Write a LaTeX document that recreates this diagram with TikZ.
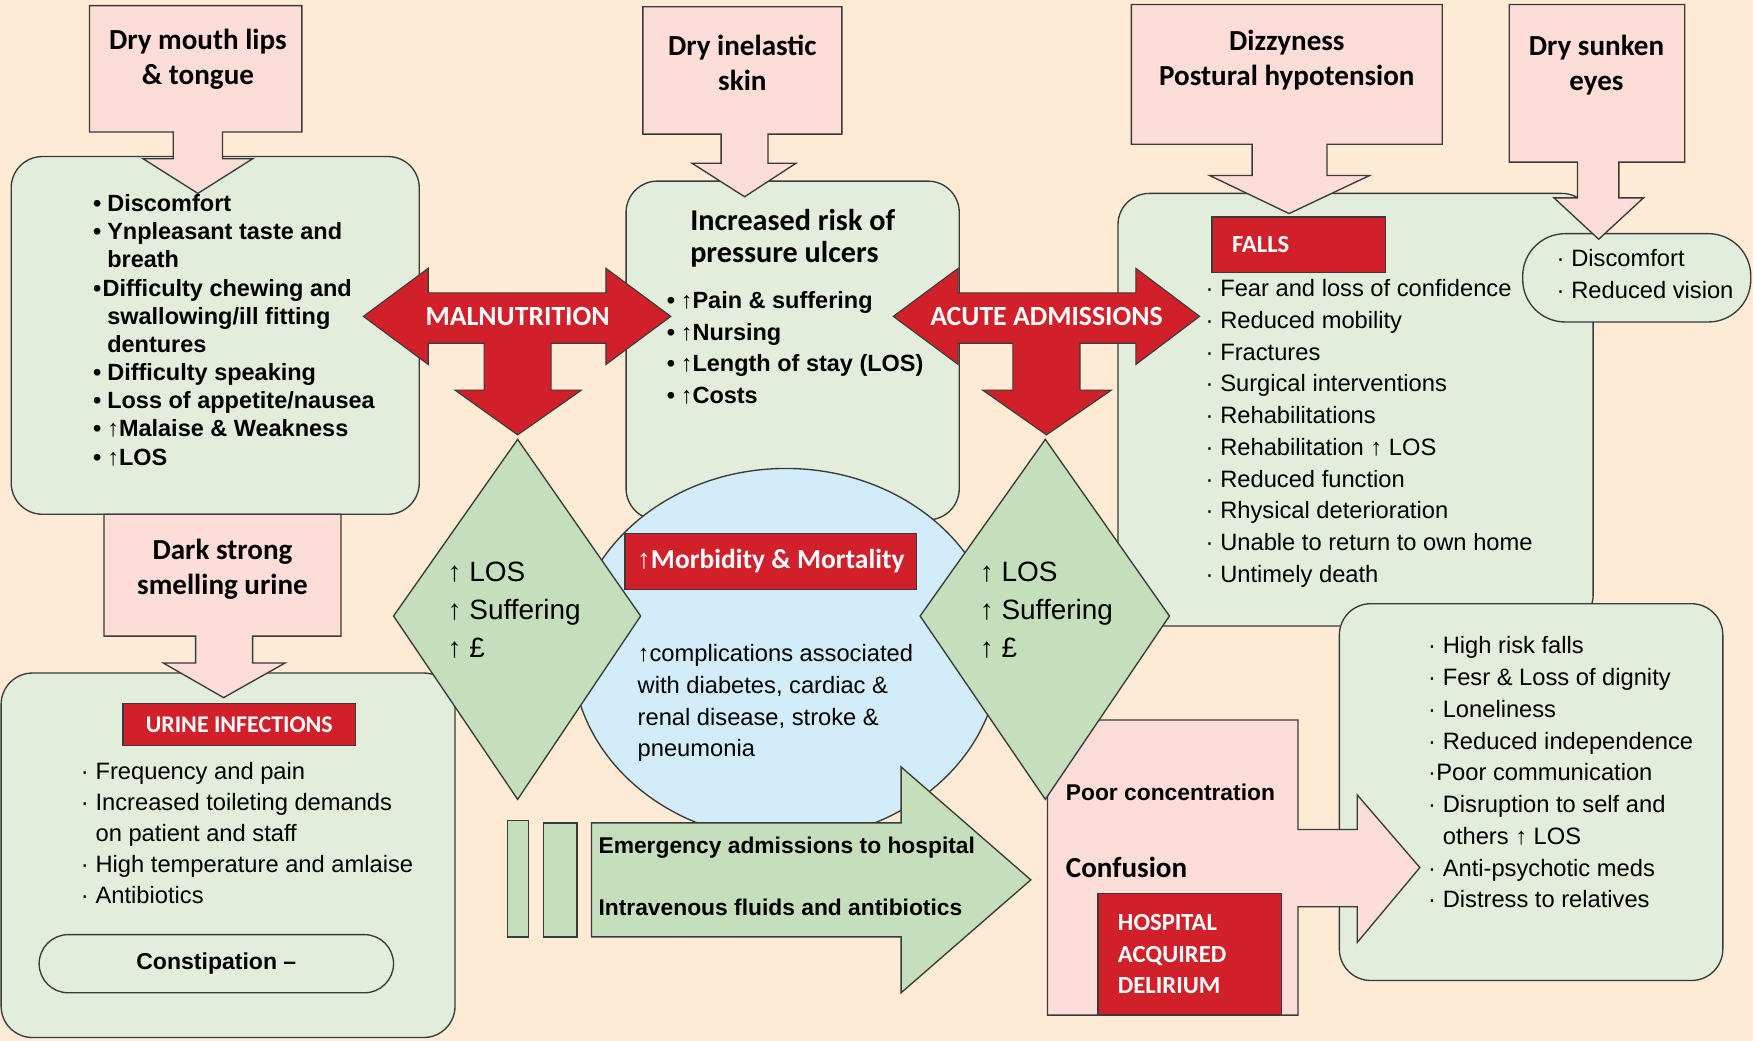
\documentclass[tikz,border=0pt]{standalone}
\usepackage{fontspec}
\setmainfont{Liberation Sans}
\newfontfamily\condfont{Carlito}
\newfontfamily\arrowfont{Liberation Sans}
\usetikzlibrary{positioning, calc}
\definecolor{mPeach}{HTML}{FEEBD5}
\definecolor{mPink}{HTML}{FCDDD7}
\definecolor{mPale}{HTML}{E2EDDB}
\definecolor{mSage}{HTML}{C5DEBC}
\definecolor{mSky}{HTML}{D2ECFA}
\definecolor{mRed}{HTML}{D2202B}
\definecolor{mLine}{HTML}{3A3A3A}
\newcommand{\upar}{{\arrowfont ↑}}
\newcommand{\dotit}{\makebox[0.62em][l]{·}}
\newcommand{\dotno}{\hspace*{0.62em}}
\newcommand{\bulit}{\makebox[0.6em][l]{•}}
\newcommand{\bulno}{\hspace*{0.6em}}

\begin{document}
\begin{tikzpicture}[x=0.5pt, y=-0.5pt,
    panel/.style={draw=mLine, fill=mPale, line width=0.6pt, rounded corners=14pt},
    callout/.style={draw=mLine, fill=mPink, line width=0.6pt},
    gem/.style={draw=mLine, fill=mSage, line width=0.6pt},
    redarrow/.style={draw=mLine, fill=mRed, line width=0.5pt},
    tag/.style={draw=mLine, fill=mRed, line width=0.6pt, text=white, font=\condfont\bfseries\fontsize{11}{14}\selectfont},
    title/.style={font=\condfont\bfseries\fontsize{13}{15.5}\selectfont, align=center, inner sep=0pt},
    boldlist/.style={font=\bfseries\fontsize{10.5}{12.6}\selectfont, align=left, anchor=base west, inner sep=0pt},
    plainlist/.style={font=\fontsize{10.6}{14.2}\selectfont, align=left, anchor=base west, inner sep=0pt},
    label/.style={anchor=base west, inner sep=0pt, font=\bfseries\fontsize{10.2}{12}\selectfont}
]
    \fill[mPeach] (0,0) rectangle (1568,931);
    \useasboundingbox (0,0) rectangle (1568,931);

    \draw[panel] (10,140) rectangle (375,460);
    \draw[callout] (80,5) -- (270,5) -- (270,118) -- (199,118) -- (199,142) -- (226,142) -- (177,173) -- (128,142) -- (155,142) -- (155,118) -- (80,118) -- cycle;

    \draw[panel] (1,602) rectangle (407,928);
    \draw[callout] (93,460) -- (305,460) -- (305,569) -- (226,569) -- (226,593) -- (255,593) -- (200,624) -- (146,593) -- (175,593) -- (175,569) -- (93,569) -- cycle;

    \draw[panel] (560,162) rectangle (858,465);
    \draw[callout] (575,6) -- (753,6) -- (753,120) -- (687,120) -- (687,146) -- (712,146) -- (666,176) -- (619,146) -- (645,146) -- (645,120) -- (575,120) -- cycle;

    \draw[panel] (1000,173) rectangle (1425,560);
    \draw[panel] (1198,540) rectangle (1541,877);
    \draw[panel, rounded corners=19pt] (1362,209) rectangle (1566,288);
    \draw[callout] (1012,4) -- (1290,4) -- (1290,129) -- (1187,129) -- (1187,157) -- (1225,157) -- (1153,191) -- (1082,157) -- (1120,157) -- (1120,129) -- (1012,129) -- cycle;
    \draw[callout] (1350,4) -- (1507,4) -- (1507,145) -- (1448,145) -- (1448,177) -- (1470,177) -- (1430,214) -- (1390,177) -- (1411,177) -- (1411,145) -- (1350,145) -- cycle;

    \draw[draw=mLine, fill=mSky, line width=0.6pt] (703,585) ellipse [x radius=191, y radius=166];

    \draw[gem] (529,736) -- (806,736) -- (806,686) -- (922,787) -- (806,888) -- (806,838) -- (529,838) -- cycle;
    \draw[gem] (454,734) rectangle (473,838);
    \draw[gem] (486,736) rectangle (516,838);

    \draw[callout] (937,644) -- (1161,644) -- (1161,742) -- (1214,742) -- (1214,711) -- (1270,776) -- (1214,843) -- (1214,811) -- (1161,811) -- (1161,908) -- (937,908) -- cycle;

    \draw[gem] (463,393) -- (573,551) -- (463,715) -- (352,551) -- cycle;
    \draw[gem] (935,393) -- (1046,551) -- (935,715) -- (823,551) -- cycle;

    \draw[redarrow] (325,283) -- (383,240) -- (383,262) -- (542,262) -- (542,240) -- (600,283) -- (542,326) -- (542,307) -- (493,307) -- (493,349) -- (520,349) -- (463,389) -- (407,349) -- (433,349) -- (433,307) -- (383,307) -- (383,326) -- cycle;
    \draw[redarrow] (799,283) -- (857,240) -- (857,262) -- (1016,262) -- (1016,240) -- (1073,283) -- (1016,326) -- (1016,307) -- (966,307) -- (966,349) -- (994,349) -- (936,389) -- (879,349) -- (906,349) -- (906,307) -- (857,307) -- (857,326) -- cycle;

    \node[title] (mouth) at (177,53) {Dry mouth lips\\\& tongue};
    \node[title] (skin) at (664,56) {Dry inelastic\\skin};
    \node[title] (dizzy) at (1151,54) {Dizzyness\\Postural hypotension};
    \node[title] (eyes) at (1428,58) {Dry sunken\\eyes};
    \node[title] (urine) at (199,509) {Dark strong\\smelling urine};
    \node[title, align=left, anchor=base west, font=\condfont\bfseries\fontsize{13.5}{14.5}\selectfont] (ulcers) at (617,235) {Increased risk of\\pressure ulcers};

    \node[boldlist] (mouthlist) at (83,416) {\bulit Discomfort\\\bulit Ynpleasant taste and\\\bulno breath\\\makebox[0.4em][l]{•}Difficulty chewing and\\\bulno swallowing/ill fitting\\\bulno dentures\\\bulit Difficulty speaking\\\bulit Loss of appetite/nausea\\\bulit \upar Malaise \& Weakness\\\bulit \upar LOS};
    \node[boldlist, font=\bfseries\fontsize{10.5}{14.2}\selectfont] (ulcerlist) at (596,361) {\bulit \upar Pain \& suffering\\\bulit \upar Nursing\\\bulit \upar Length of stay (LOS)\\\bulit \upar Costs};

    \node[tag, minimum width=104pt, minimum height=19pt, font=\condfont\bfseries\fontsize{10.7}{13}\selectfont] (uti) at (214,648) {URINE INFECTIONS};
    \node[plainlist, font=\fontsize{10.6}{13.9}\selectfont] (utilist) at (72,808) {\dotit Frequency and pain\\\dotit Increased toileting demands\\\dotno on patient and staff\\\dotit High temperature and amlaise\\\dotit Antibiotics};
    \node[panel, rounded corners=13pt, minimum width=158.5pt, minimum height=26pt, font=\bfseries\fontsize{10.3}{12}\selectfont] (constip) at (193.5,862) {Constipation –};

    \node[text=white, font=\condfont\bfseries\fontsize{12.4}{14}\selectfont] (maln) at (463,283) {MALNUTRITION};
    \node[text=white, font=\condfont\bfseries\fontsize{12.4}{14}\selectfont] (acute) at (936,283) {ACUTE ADMISSIONS};

    \node[plainlist, font=\fontsize{12.5}{17}\selectfont] (costl) at (400,588) {\upar\ LOS\\\upar\ Suffering\\\upar\ £};
    \node[plainlist, font=\fontsize{12.5}{17}\selectfont] (costr) at (876,588) {\upar\ LOS\\\upar\ Suffering\\\upar\ £};

    \node[tag, minimum width=130.5pt, minimum height=25pt, font=\condfont\bfseries\fontsize{12.3}{14}\selectfont] (morb) at (689.5,502) {\upar Morbidity \& Mortality};
    \node[plainlist] (complist) at (570,677) {\upar complications associated\\with diabetes, cardiac \&\\renal disease, stroke \&\\pneumonia};

    \node[label] (emerg) at (535,763) {Emergency admissions to hospital};
    \node[label] (fluids) at (535,819) {Intravenous fluids and antibiotics};

    \node[tag, minimum height=25pt, text width=59.5pt, inner xsep=9pt, align=left] (falls) at (1161.5,219) {FALLS};
    \node[plainlist] (fallist) at (1078,521) {\dotit Fear and loss of confidence\\\dotit Reduced mobility\\\dotit Fractures\\\dotit Surgical interventions\\\dotit Rehabilitations\\\dotit Rehabilitation \upar\ LOS\\\dotit Reduced function\\\dotit Rhysical deterioration\\\dotit Unable to return to own home\\\dotit Untimely death};
    \node[plainlist] (eyelist) at (1392,267) {\dotit Discomfort\\\dotit Reduced vision};

    \node[label] (conc) at (953,716) {Poor concentration};
    \node[label, font=\condfont\bfseries\fontsize{13}{15}\selectfont] (confu) at (953,785) {Confusion};
    \node[tag, minimum height=54.5pt, text width=64pt, inner xsep=9pt, align=left] (delir) at (1064,853.5) {HOSPITAL\\ACQUIRED\\DELIRIUM};
    \node[plainlist] (delirlist) at (1277,812) {\dotit High risk falls\\\dotit Fesr \& Loss of dignity\\\dotit Loneliness\\\dotit Reduced independence\\\makebox[0.35em][l]{·}Poor communication\\\dotit Disruption to self and\\\dotno others \upar\ LOS\\\dotit Anti-psychotic meds\\\dotit Distress to relatives};
\end{tikzpicture}
\end{document}
